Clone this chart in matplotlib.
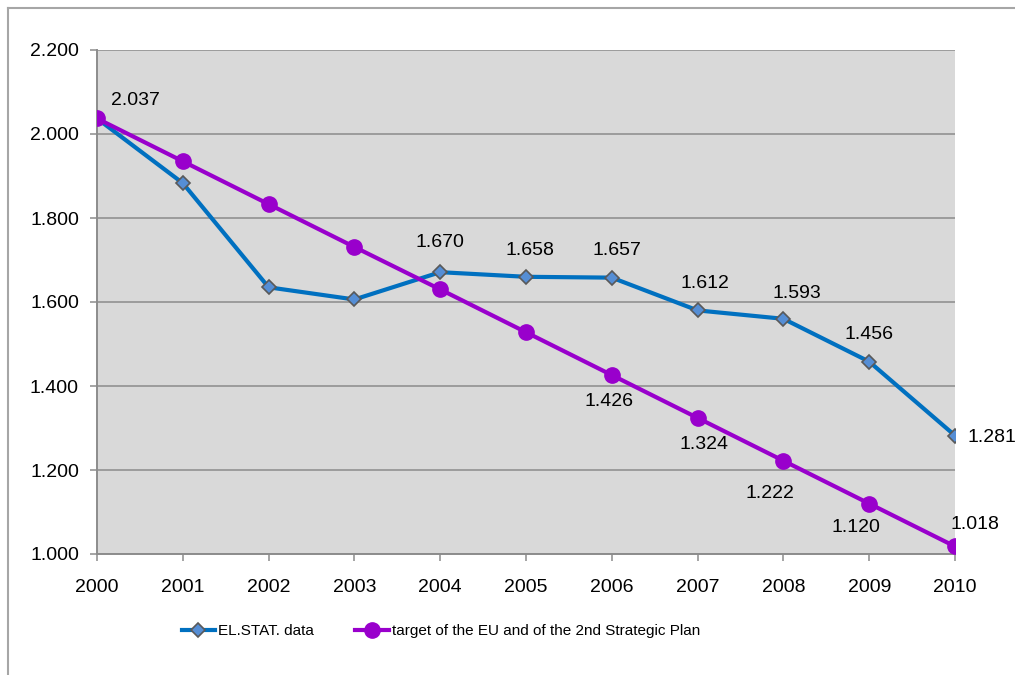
import matplotlib
matplotlib.use("Agg")
import matplotlib.pyplot as plt
from matplotlib.lines import Line2D

plt.rcParams['font.family'] = ['Liberation Sans', 'DejaVu Sans']

years = [2000, 2001, 2002, 2003, 2004, 2005, 2006, 2007, 2008, 2009, 2010]
elstat = [2.037, 1.883, 1.635, 1.606, 1.671, 1.660, 1.658, 1.580, 1.560, 1.458, 1.282]
target = [2.037, 1.935, 1.833, 1.731, 1.630, 1.528, 1.426, 1.324, 1.222, 1.120, 1.018]

elstat_label_years = [2004, 2005, 2006, 2007, 2008, 2009, 2010]
elstat_label_text = ['1.670', '1.658', '1.657', '1.612', '1.593', '1.456', '1.281']
target_label_years = [2000, 2006, 2007, 2008, 2009, 2010]
target_label_text = ['2.037', '1.426', '1.324', '1.222', '1.120', '1.018']

y_ticks = [1.0, 1.2, 1.4, 1.6, 1.8, 2.0, 2.2]
y_tick_labels = ['1.000', '1.200', '1.400', '1.600', '1.800', '2.000', '2.200']

blue = '#0070c0'
purple = '#9900cc'
grid_gray = '#8c8c8c'

fig = plt.figure(figsize=(10.15, 6.75), dpi=100)
ax = fig.add_axes([97 / 1015, 121 / 675, 858 / 1015, 504 / 675])
ax.set_facecolor('#d9d9d9')

ax.plot(years, elstat, color=blue, lw=3, marker='D', ms=7,
        mfc='#558ed5', mec='#595959', mew=1.2, label='EL.STAT. data', zorder=3)
ax.plot(years, target, color=purple, lw=3, marker='o', ms=11,
        mfc=purple, mec=purple, label='target of the EU and of the 2nd Strategic Plan', zorder=4)

# data labels (offsets in pixels, as placed in the original)
elstat_offsets = [(0, 30), (4, 26), (5, 27), (7, 27), (13, 25), (0, 27), (12, -2)]
for yr, txt, off in zip(elstat_label_years, elstat_label_text, elstat_offsets):
    val = elstat[years.index(yr)]
    ha = 'left' if yr == 2010 else 'center'
    ax.annotate(txt, (yr, val), xytext=off, textcoords='offset pixels',
                ha=ha, va='center', fontsize=14, zorder=5)

target_offsets = [(38, 18), (-3, -26), (6, -27), (-13, -33), (-13, -24), (20, 22)]
for yr, txt, off in zip(target_label_years, target_label_text, target_offsets):
    val = target[years.index(yr)]
    ax.annotate(txt, (yr, val), xytext=off, textcoords='offset pixels',
                ha='center', va='center', fontsize=14, zorder=5)

ax.set_xlim(2000, 2010)
ax.set_ylim(1.0, 2.2)
ax.set_xticks(years)
ax.set_xticklabels([str(y) for y in years])
ax.set_yticks(y_ticks)
ax.set_yticklabels(y_tick_labels)
ax.yaxis.grid(True, color=grid_gray, lw=1.1)
ax.set_axisbelow(True)

for side in ['top', 'right']:
    ax.spines[side].set_visible(False)
for side in ['left', 'bottom']:
    ax.spines[side].set_color(grid_gray)
    ax.spines[side].set_linewidth(1.4)

ax.tick_params(axis='both', colors=grid_gray, length=5, width=1.1, labelsize=14,
               labelcolor='black')
ax.tick_params(axis='x', pad=13)
ax.tick_params(axis='y', pad=8)

leg = fig.legend(loc='center', bbox_to_anchor=(441 / 1015, 44 / 675), ncol=2,
                 frameon=False, handlelength=2.2, handletextpad=0.2,
                 columnspacing=2.7, prop={'size': 11})

# outer chart border (left and top visible in the original crop)
fig.add_artist(Line2D([8 / 1015, 8 / 1015], [0, 1 - 8 / 675], transform=fig.transFigure,
                      color='#a6a6a6', lw=1.5))
fig.add_artist(Line2D([8 / 1015, 1], [1 - 8 / 675, 1 - 8 / 675], transform=fig.transFigure,
                      color='#a6a6a6', lw=1.5))

fig.savefig('out.png', dpi=100)
